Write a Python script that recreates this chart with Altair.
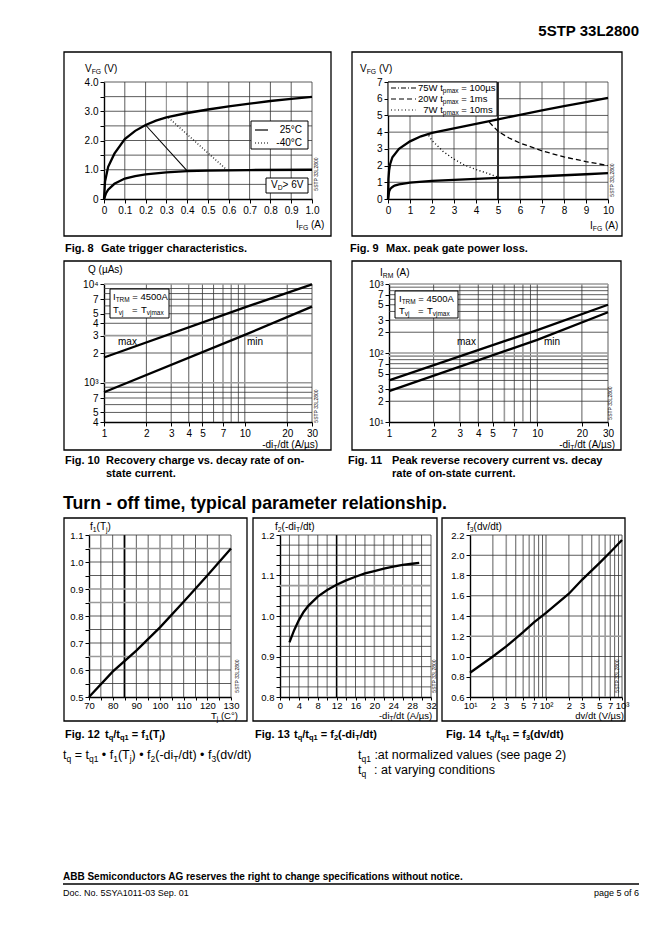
import altair as alt
import pandas as pd

FONT = "Liberation Sans"

# ---------------- values ----------------
# Fig. 8  Gate trigger characteristics (I_FG [A] -> V_FG [V])
f8_upper_i = [0, 0.005, 0.02, 0.05, 0.1, 0.15, 0.2, 0.25, 0.3, 0.4, 0.5, 0.6, 0.7, 0.8, 0.9, 1.0]
f8_upper_v = [0, 0.6, 1.1, 1.55, 2.05, 2.33, 2.53, 2.68, 2.79, 2.94, 3.06, 3.17, 3.26, 3.35, 3.42, 3.49]
f8_lower_i = [0, 0.01, 0.02, 0.05, 0.1, 0.15, 0.2, 0.3, 0.4, 0.5, 0.7, 1.0]
f8_lower_v = [0, 0.2, 0.32, 0.52, 0.7, 0.78, 0.84, 0.91, 0.95, 0.97, 0.99, 1.0]
f8_25c_i = [0.2, 0.4]
f8_25c_v = [2.53, 0.96]
f8_m40c_i = [0.31, 0.59]
f8_m40c_v = [2.78, 1.0]
f8_xticks = [0, 0.1, 0.2, 0.3, 0.4, 0.5, 0.6, 0.7, 0.8, 0.9, 1.0]
f8_xlabels = ['0', '0.1', '0.2', '0.3', '0.4', '0.5', '0.6', '0.7', '0.8', '0.9', '1.0']
f8_yticks = [0, 0.5, 1, 1.5, 2, 2.5, 3, 3.5, 4]
f8_ylabels = ['0', '', '1.0', '', '2.0', '', '3.0', '', '4.0']
f8_xgrid = [0.1, 0.2, 0.4, 0.5, 0.6, 0.7, 0.8, 0.9, 1.0]
f8_xgrid_light = [0.3]
f8_ygrid = [0.5, 1, 1.5, 2, 2.5, 3, 3.5, 4]

# Fig. 9  Max. peak gate power loss
f9_upper_i = [0, 0.02, 0.05, 0.1, 0.2, 0.5, 1, 1.5, 2, 3, 4, 5, 6, 7, 8, 9, 10]
f9_upper_v = [0, 1.2, 1.7, 2.1, 2.5, 3.0, 3.45, 3.75, 3.95, 4.22, 4.5, 4.77, 5.04, 5.3, 5.55, 5.8, 6.05]
f9_lower_i = [0, 0.05, 0.1, 0.2, 0.3, 0.5, 1, 2, 3, 4, 5, 6, 7, 8, 9, 10]
f9_lower_v = [0, 0.45, 0.6, 0.72, 0.8, 0.87, 0.98, 1.08, 1.15, 1.21, 1.26, 1.3, 1.36, 1.42, 1.48, 1.55]
f9_20w_i = [4.6, 5, 5.5, 6, 7, 8, 9, 10]
f9_20w_v = [4.6, 4.05, 3.65, 3.35, 2.88, 2.52, 2.24, 2.0]
f9_7w_i = [1.85, 2, 2.5, 3, 3.5, 4, 4.5, 5]
f9_7w_v = [3.8, 3.5, 2.85, 2.38, 2.02, 1.76, 1.55, 1.3]
f9_xticks = [0, 1, 2, 3, 4, 5, 6, 7, 8, 9, 10]
f9_xlabels = ['0', '1', '2', '3', '4', '5', '6', '7', '8', '9', '10']
f9_yticks = [0, 1, 2, 3, 4, 5, 6, 7]
f9_ylabels = ['0', '1', '2', '3', '4', '5', '6', '7']
f9_xgrid = [1, 2, 3, 4, 6, 7, 8, 9, 10]
f9_xgrid_bold = [5]
f9_ygrid = [1, 2, 3, 4, 5, 6, 7]

# Fig. 10  Recovery charge Q [uAs] vs -diT/dt [A/us]
f10_rate = [1, 10, 30]
f10_max = [1800, 5800, 9900]
f10_min = [800, 3050, 5900]
f10_xticks = [1, 2, 3, 4, 5, 7, 10, 20, 30]
f10_xlabels = ['1', '2', '3', '4', '5', '7', '10', '20', '30']
f10_yticks = [400, 500, 700, 1000, 2000, 3000, 4000, 5000, 7000, 10000]
f10_ylabels = ['4', '5', '7', '10³', '2', '3', '4', '5', '7', '10⁴']
f10_xgrid = [2, 3, 4, 5, 6, 8, 9, 10, 20, 30]
f10_xgrid_light = [7]
f10_ygrid = [500, 600, 700, 800, 900, 2000, 4000, 5000, 6000, 7000, 8000, 9000]
f10_ygrid_light = [1000, 3000, 10000]

# Fig. 11  Peak reverse recovery current I_RM [A]
f11_rate = [1, 10, 30]
f11_max = [40, 215, 500]
f11_min = [28, 155, 390]
f11_xticks = [1, 2, 3, 4, 5, 7, 10, 20, 30]
f11_xlabels = ['1', '2', '3', '4', '5', '7', '10', '20', '30']
f11_yticks = [10, 20, 30, 50, 70, 100, 200, 300, 500, 700, 1000]
f11_ylabels = ['10¹', '2', '3', '5', '7', '10²', '2', '3', '5', '7', '10³']
f11_xgrid = [2, 4, 5, 7, 9, 10, 20, 30]
f11_xgrid_light = [3, 6, 8]
f11_ygrid = [20, 30, 40, 50, 60, 70, 80, 200, 300, 400, 500, 600, 700, 800, 900]
f11_ygrid_light = [90, 100, 1000]

# Fig. 12  f1(Tj)
f12_tj = [70, 80, 90, 100, 110, 120, 130]
f12_f1 = [0.5, 0.594, 0.672, 0.758, 0.853, 0.95, 1.05]
f12_xticks = [70, 75, 80, 85, 90, 95, 100, 105, 110, 115, 120, 125, 130]
f12_xlabels = ['70', '', '80', '', '90', '', '100', '', '110', '', '120', '', '130']
f12_yticks = [0.5, 0.55, 0.6, 0.65, 0.7, 0.75, 0.8, 0.85, 0.9, 0.95, 1.0, 1.05, 1.1]
f12_ylabels = ['0.5', '', '0.6', '', '0.7', '', '0.8', '', '0.9', '', '1.0', '', '1.1']
f12_xgrid = [75, 80, 90, 95, 100, 105, 110, 115, 120, 125, 130]
f12_xgrid_bold = [85]
f12_ygrid = [0.55, 0.6, 0.7, 0.75, 0.8, 0.95, 1.0, 1.1]
f12_ygrid_light = [0.65, 0.85, 0.9, 1.05]

# Fig. 13  f2(-diT/dt)
f13_rate = [2, 3, 4, 5, 6, 8, 10, 12, 14, 16, 18, 20, 22, 24, 26, 28, 29.5]
f13_f2 = [0.935, 0.965, 0.99, 1.01, 1.025, 1.048, 1.064, 1.077, 1.088, 1.097, 1.105, 1.111,
          1.117, 1.122, 1.126, 1.129, 1.131]
f13_xticks = [0, 2, 4, 6, 8, 10, 12, 14, 16, 18, 20, 22, 24, 26, 28, 30, 32]
f13_xlabels = ['0', '', '4', '', '8', '', '12', '', '16', '', '20', '', '24', '', '28', '', '32']
f13_yticks = [0.8, 0.825, 0.85, 0.875, 0.9, 0.925, 0.95, 0.975, 1.0, 1.025, 1.05, 1.075, 1.1,
              1.125, 1.15, 1.175, 1.2]
f13_ylabels = ['0.8', '', '', '', '0.9', '', '', '', '1.0', '', '', '', '1.1', '', '', '', '1.2']
f13_xgrid = [2, 4, 8, 16, 18, 22, 24, 26, 28, 30, 32]
f13_xgrid_light = [6, 10, 14, 20]
f13_xgrid_bold = [12]
f13_ygrid = [0.825, 0.85, 0.875, 0.9, 0.925, 0.95, 0.975, 1.0, 1.025, 1.05, 1.1, 1.125, 1.15,
             1.175, 1.2]
f13_ygrid_light = [1.075]

# Fig. 14  f3(dv/dt)
f14_dvdt = [10, 20, 30, 50, 70, 100, 200, 300, 500, 700, 1000]
f14_f3 = [0.84, 1.0, 1.1, 1.24, 1.34, 1.43, 1.62, 1.76, 1.92, 2.03, 2.15]
f14_xticks = [10, 20, 30, 50, 70, 100, 200, 300, 500, 700, 1000]
f14_xlabels = ['10¹', '2', '3', '5', '7', '10²', '2', '3', '5', '7', '10³']
f14_yticks = [0.6, 0.8, 1.0, 1.2, 1.4, 1.6, 1.8, 2.0, 2.2]
f14_ylabels = ['0.6', '0.8', '1.0', '1.2', '1.4', '1.6', '1.8', '2.0', '2.2']
f14_xgrid = [20, 40, 50, 60, 70, 80, 90, 100, 200, 400, 500, 700, 800, 900, 1000]
f14_xgrid_light = [30, 300, 600]
f14_ygrid = [0.8, 1.0, 1.4, 1.6, 1.8, 2.0, 2.2]
f14_ygrid_light = [1.2]

# ---------------- helpers ----------------
REG = {' ': 278, '!': 278, '(': 333, ')': 333, ',': 278, '-': 333, '.': 278, '/': 278,
       ':': 278, '=': 584, '>': 584, '•': 350, '°': 400, 'µ': 556}
for _c in '0123456789':
    REG[_c] = 556
REG.update(dict(zip('ABCDEFGHIJKLMNOPQRSTUVWXYZ',
                    [667, 667, 722, 722, 667, 611, 778, 722, 278, 500, 667, 556, 833, 722, 778, 667,
                     778, 722, 667, 611, 722, 667, 944, 667, 667, 611])))
REG.update(dict(zip('abcdefghijklmnopqrstuvwxyz',
                    [556, 556, 500, 556, 556, 278, 556, 556, 222, 222, 500, 222, 833, 556, 556, 556,
                     556, 333, 500, 278, 556, 500, 722, 500, 500, 500])))
BOLD = dict(REG)
BOLD[':'] = 333
BOLD.update(dict(zip('ABCDEFGHIJKLMNOPQRSTUVWXYZ',
                     [722, 722, 722, 722, 667, 611, 778, 722, 278, 556, 722, 611, 833, 722, 778, 667,
                      778, 722, 667, 611, 722, 667, 944, 667, 667, 611])))
BOLD.update(dict(zip('abcdefghijklmnopqrstuvwxyz',
                     [556, 611, 556, 611, 556, 333, 611, 611, 278, 278, 556, 278, 889, 611, 611, 611,
                      611, 389, 556, 333, 611, 556, 778, 556, 556, 500])))

ONE = pd.DataFrame({'k': [0]})


def text_layer(s, x, y, size=10, bold=False, align='left', angle=None):
    kw = dict(font=FONT, fontSize=size, fontWeight='bold' if bold else 'normal',
              align=align, baseline='middle', color='black')
    if angle is not None:
        kw['angle'] = angle
    return alt.Chart(pd.DataFrame({'t': [s]})).mark_text(**kw).encode(
        x=alt.value(x), y=alt.value(y), text='t:N')


def rich(parts, x, y, size=10, bold=False, align='left'):
    tbl = BOLD if bold else REG
    items = []
    for p in parts:
        s, m = (p, 'n') if isinstance(p, str) else p
        fs = size if m == 'n' else round(size * 0.68, 2)
        w = sum(tbl.get(c, 556) for c in s) * fs / 1000
        items.append((s, m, fs, w))
    total = sum(it[3] for it in items)
    cx = x - total if align == 'right' else x
    out = []
    for s, m, fs, w in items:
        lead = len(s) - len(s.lstrip(' '))
        st = s.strip(' ')
        if st:
            dy = 0 if m == 'n' else (0.3 * size if m == 's' else -0.35 * size)
            out.append(text_layer(st, cx + lead * tbl[' '] * fs / 1000, y + dy, fs, bold))
        cx += w
    return out


def label_expr(vals, labs):
    expr = "''"
    for v, l in reversed(list(zip(vals, labs))):
        expr = f"abs(datum.value - {v}) < 1e-6 ? '{l}' : ({expr})"
    return expr


def ax(vals, labs, size=10, pad=2, tick=4):
    return alt.Axis(values=vals, labelExpr=label_expr(vals, labs), title=None, grid=False,
                    labelFlush=False, labelOverlap=False, labelFontSize=size,
                    labelPadding=pad, tickSize=tick)


def lin(d):
    return alt.Scale(domain=d, nice=False, zero=False)


def lg(d):
    return alt.Scale(type='log', domain=d, nice=False)


def box(x1, y1, x2, y2, fill='transparent', sw=1.0):
    return alt.Chart(ONE).mark_rect(fill=fill, stroke='black', strokeWidth=sw).encode(
        x=alt.value(x1), x2=alt.value(x2), y=alt.value(y1), y2=alt.value(y2))


def hline(x1, x2, y, dash=None, sw=1.2):
    kw = dict(color='black', strokeWidth=sw)
    if dash:
        kw['strokeDash'] = dash
    return alt.Chart(ONE).mark_rule(**kw).encode(x=alt.value(x1), x2=alt.value(x2), y=alt.value(y))


def vgrid(X, vals, color='#333333', sw=0.8):
    return alt.Chart(pd.DataFrame({'x': vals})).mark_rule(color=color, strokeWidth=sw).encode(x=X)


def hgrid(Y, vals, color='#333333', sw=0.8):
    return alt.Chart(pd.DataFrame({'y': vals})).mark_rule(color=color, strokeWidth=sw).encode(y=Y)


def curve(X, Y, xs, ys, sw=2.3, dash=None):
    kw = dict(color='black', strokeWidth=sw)
    if dash:
        kw['strokeDash'] = dash
    return alt.Chart(pd.DataFrame({'x': xs, 'y': ys})).mark_line(**kw).encode(x=X, y=Y)


def flat(*items):
    out = []
    for it in items:
        if isinstance(it, list):
            out.extend(it)
        else:
            out.append(it)
    return out


def panel(w, h, cell, layers, frame=None):
    L, T, R, B = cell
    parts = [alt.Chart(ONE).mark_rect(opacity=0).encode(
        x=alt.value(-L), x2=alt.value(w + R), y=alt.value(-T), y2=alt.value(h + B))]
    if frame:
        parts.append(box(*frame, sw=1.3))
    parts += layers
    return alt.layer(*parts).properties(width=w, height=h)


def spacer(h, T, B):
    return panel(1, h, (0, T, 0, B), [])


def tag(x, y):
    return text_layer('5STP 33L2800', x, y, 5, align='center', angle=270)


LIGHT = '#9a9a9a'

# ---------------- Fig. 8 ----------------
X8 = alt.X('x:Q', scale=lin([0, 1]), axis=ax(f8_xticks, f8_xlabels))
Y8 = alt.Y('y:Q', scale=lin([0, 4]), axis=ax(f8_yticks, f8_ylabels))
p8 = panel(208, 117, (92, 35, 29, 56), flat(
    vgrid(X8, f8_xgrid), vgrid(X8, f8_xgrid_light, LIGHT, 1.2), hgrid(Y8, f8_ygrid),
    box(147, 39, 204, 67, 'white'),
    hline(151, 164, 48), text_layer('25°C', 198, 48, 10, align='right'),
    hline(151, 164, 61, [1, 2]), text_layer('-40°C', 198, 61, 10, align='right'),
    box(162, 96, 204, 111, 'white'),
    rich(['V', ('D', 's'), '> 6V'], 167, 103, 10),
    curve(X8, Y8, f8_upper_i, f8_upper_v), curve(X8, Y8, f8_lower_i, f8_lower_v),
    curve(X8, Y8, f8_25c_i, f8_25c_v, 1.1), curve(X8, Y8, f8_m40c_i, f8_m40c_v, 1.3, [1, 2]),
    rich(['V', ('FG', 's'), ' (V)'], -19, -13, 10),
    rich(['I', ('FG', 's'), ' (A)'], 192, 143, 10),
    tag(212, 92),
    text_layer('Fig. 8', -39, 167, 11, True),
    text_layer('Gate trigger characteristics.', -3, 167, 11, True),
), frame=(-40, -30, 227, 154))

# ---------------- Fig. 9 ----------------
X9 = alt.X('x:Q', scale=lin([0, 10]), axis=ax(f9_xticks, f9_xlabels))
Y9 = alt.Y('y:Q', scale=lin([0, 7]), axis=ax(f9_yticks, f9_ylabels))
p9 = panel(220, 117, (45, 35, 41, 56), flat(
    vgrid(X9, f9_xgrid, '#444444'), vgrid(X9, f9_xgrid_bold, 'black', 1.6), hgrid(Y9, f9_ygrid),
    box(0, 0, 109, 34, 'white'),
    hline(3, 28, 6, [5, 2, 1, 2]), hline(3, 28, 17, [5, 3]), hline(3, 28, 28, [1, 2.5]),
    rich(['75W t', ('pmax', 's'), ' = 100µs'], 30, 6, 9.5),
    rich(['20W t', ('pmax', 's'), ' = 1ms'], 30, 17, 9.5),
    rich(['7W t', ('pmax', 's'), ' = 10ms'], 35.3, 28, 9.5),
    curve(X9, Y9, f9_upper_i, f9_upper_v), curve(X9, Y9, f9_lower_i, f9_lower_v),
    curve(X9, Y9, f9_20w_i, f9_20w_v, 1.3, [5, 3]), curve(X9, Y9, f9_7w_i, f9_7w_v, 1.4, [1, 2.5]),
    rich(['V', ('FG', 's'), ' (V)'], -28, -13, 10),
    rich(['I', ('FG', 's'), ' (A)'], 202, 144, 10),
    tag(224, 98),
    text_layer('Fig. 9', -38, 167, 11, True),
    text_layer('Max. peak gate power loss.', -2, 167, 11, True),
), frame=(-36, -30, 234, 154))

# ---------------- Fig. 10 ----------------
X10 = alt.X('x:Q', scale=lg([1, 30]), axis=ax(f10_xticks, f10_xlabels))
Y10 = alt.Y('y:Q', scale=lg([400, 10000]), axis=ax(f10_yticks, f10_ylabels))
p10 = panel(208, 138, (92, 27, 29, 67), flat(
    vgrid(X10, f10_xgrid), vgrid(X10, f10_xgrid_light, LIGHT, 1.6),
    hgrid(Y10, f10_ygrid), hgrid(Y10, f10_ygrid_light, LIGHT, 1.6),
    box(6, 5, 65, 34, 'white'),
    rich(['I', ('TRM', 's'), ' = 4500A'], 9, 13, 9.5),
    rich(['T', ('vj', 's')], 9, 26, 9.5), text_layer('=', 28, 26, 9.5),
    rich(['T', ('vjmax', 's')], 37, 26, 9.5),
    curve(X10, Y10, f10_rate, f10_max), curve(X10, Y10, f10_rate, f10_min),
    text_layer('max', 14, 58, 10), text_layer('min', 143, 58, 10),
    text_layer('Q (µAs)', -16, -14, 10),
    rich(['-di', ('T', 's'), '/dt (A/µs)'], 214, 161, 10, align='right'),
    tag(212, 122),
    text_layer('Fig. 10', -39, 177, 11, True),
    text_layer('Recovery charge vs. decay rate of on-', 2, 177, 11, True),
    text_layer('state current.', 2, 190, 11, True),
), frame=(-40, -23, 227, 166))

# ---------------- Fig. 11 ----------------
X11 = alt.X('x:Q', scale=lg([1, 30]), axis=ax(f11_xticks, f11_xlabels))
Y11 = alt.Y('y:Q', scale=lg([10, 1000]), axis=ax(f11_yticks, f11_ylabels))
p11 = panel(219, 138, (46, 27, 41, 67), flat(
    vgrid(X11, f11_xgrid), vgrid(X11, f11_xgrid_light, LIGHT, 1.6),
    hgrid(Y11, f11_ygrid), hgrid(Y11, f11_ygrid_light, LIGHT, 1.6),
    box(6, 7, 69, 34, 'white'),
    rich(['I', ('TRM', 's'), ' = 4500A'], 10, 15, 9.5),
    rich(['T', ('vj', 's')], 10, 27, 9.5), text_layer('=', 29, 27, 9.5),
    rich(['T', ('vjmax', 's')], 38, 27, 9.5),
    curve(X11, Y11, f11_rate, f11_max), curve(X11, Y11, f11_rate, f11_min),
    text_layer('max', 68, 58, 10), text_layer('min', 155, 58, 10),
    rich(['I', ('RM', 's'), ' (A)'], -9, -11, 10),
    rich(['-di', ('T', 's'), '/dt (A/µs)'], 226, 161, 10, align='right'),
    tag(221, 119),
    text_layer('Fig. 11', -41, 177, 11, True),
    text_layer('Peak reverse recovery current vs. decay', 3, 177, 11, True),
    text_layer('rate of on-state current.', 3, 190, 11, True),
), frame=(-37, -23, 232, 166))

# ---------------- Fig. 12 ----------------
X12 = alt.X('x:Q', scale=lin([70, 130]), axis=ax(f12_xticks, f12_xlabels, 9.5, 0, 3))
Y12 = alt.Y('y:Q', scale=lin([0.5, 1.1]), axis=ax(f12_yticks, f12_ylabels, 9.5))
p12 = panel(142, 162, (77, 20, 18, 47), flat(
    vgrid(X12, f12_xgrid), vgrid(X12, f12_xgrid_bold, 'black', 1.8),
    hgrid(Y12, f12_ygrid), hgrid(Y12, f12_ygrid_light, LIGHT, 1.6),
    curve(X12, Y12, f12_tj, f12_f1),
    rich(['f', ('1', 's'), '(T', ('j', 's'), ')'], 1, -8, 10),
    rich(['T', ('j', 's'), ' (C°)'], 122, 181, 9.5),
    tag(148, 141),
    text_layer('Fig. 12', -24, 200, 11, True),
    rich(['t', ('q', 's'), '/t', ('q1', 's'), ' = f', ('1', 's'), '(T', ('j', 's'), ')'], 16, 200, 11, True),
), frame=(-25, -17, 158, 186))

# ---------------- Fig. 13 ----------------
X13 = alt.X('x:Q', scale=lin([0, 32]), axis=ax(f13_xticks, f13_xlabels, 9.5, 0, 3))
Y13 = alt.Y('y:Q', scale=lin([0.8, 1.2]), axis=ax(f13_yticks, f13_ylabels, 9.5))
p13 = panel(151, 162, (29, 20, 7, 47), flat(
    vgrid(X13, f13_xgrid), vgrid(X13, f13_xgrid_light, LIGHT, 1.6), vgrid(X13, f13_xgrid_bold, 'black', 1.6),
    hgrid(Y13, f13_ygrid), hgrid(Y13, f13_ygrid_light, LIGHT, 1.6),
    curve(X13, Y13, f13_rate, f13_f2),
    rich(['f', ('2', 's'), '(-di', ('T', 's'), '/dt)'], -5, -8, 10),
    rich(['-di', ('T', 's'), '/dt (A/µs)'], 152, 181, 9.5, align='right'),
    tag(154, 141),
    text_layer('Fig. 13', -25, 200, 11, True),
    rich(['t', ('q', 's'), '/t', ('q1', 's'), ' = f', ('2', 's'), '(-di', ('T', 's'), '/dt)'], 14, 200, 11, True),
), frame=(-27, -17, 157, 186))

# ---------------- Fig. 14 ----------------
X14 = alt.X('x:Q', scale=lg([10, 1000]), axis=ax(f14_xticks, f14_xlabels, 9.5, 0, 3))
Y14 = alt.Y('y:Q', scale=lin([0.6, 2.2]), axis=ax(f14_yticks, f14_ylabels, 9.5))
p14 = panel(152, 162, (30, 20, 29, 47), flat(
    vgrid(X14, f14_xgrid), vgrid(X14, f14_xgrid_light, LIGHT, 1.6),
    hgrid(Y14, f14_ygrid), hgrid(Y14, f14_ygrid_light, LIGHT, 1.6),
    curve(X14, Y14, f14_dvdt, f14_f3),
    rich(['f', ('3', 's'), '(dv/dt)'], -3, -8, 10),
    text_layer('dv/dt (V/µs)', 154, 181, 9.5, align='right'),
    tag(147, 141),
    text_layer('Fig. 14', -24, 200, 11, True),
    rich(['t', ('q', 's'), '/t', ('q1', 's'), ' = f', ('3', 's'), '(dv/dt)'], 16, 200, 11, True),
), frame=(-28, -17, 155, 186))

# ---------------- free text rows ----------------
ROW_W = 636
header = panel(ROW_W, 36, (0, 0, 0, 0), [text_layer('5STP 33L2800', 630, 22, 15, True, align='right')])
title_row = panel(ROW_W, 20, (0, 0, 0, 0),
                  [text_layer('Turn - off time, typical parameter relationship.', 54, 13, 17.7, True)])
footer = panel(ROW_W, 185, (0, 0, 0, 0), flat(
    rich(['t', ('q', 's'), ' = t', ('q1', 's'), ' • f', ('1', 's'), '(T', ('j', 's'), ') • f', ('2', 's'),
          '(-di', ('T', 's'), '/dt) • f', ('3', 's'), '(dv/dt)'], 54, 9, 12.5),
    rich(['t', ('q1', 's'), ' :at normalized values (see page 2)'], 349, 9, 12.5),
    rich(['t', ('q', 's')], 349, 24, 12.5),
    text_layer(': at varying conditions', 365, 24, 12.5),
    text_layer('ABB Semiconductors AG reserves the right to change specifications without notice.',
               54, 131, 10, True),
    hline(54, 630, 138, sw=1.5),
    text_layer('Doc. No. 5SYA1011-03 Sep. 01', 54, 147, 9),
    text_layer('page 5 of 6', 630, 147, 9, align='right'),
))

chart = alt.vconcat(
    header,
    alt.hconcat(spacer(117, 35, 56), p8, p9, spacing=0),
    alt.hconcat(spacer(138, 27, 67), p10, p11, spacing=0),
    title_row,
    alt.hconcat(spacer(162, 20, 47), p12, p13, p14, spacing=0),
    footer,
    spacing=0,
).properties(padding=0, background='white').configure_axis(
    domainColor='black', domainWidth=1.4, tickColor='black', tickWidth=1, tickSize=4,
    labelFont=FONT, labelFontSize=10, labelColor='black', labelPadding=2, grid=False
).configure_view(stroke='transparent')

chart.save("out.html", embed_options={"renderer": "svg", "actions": False})
